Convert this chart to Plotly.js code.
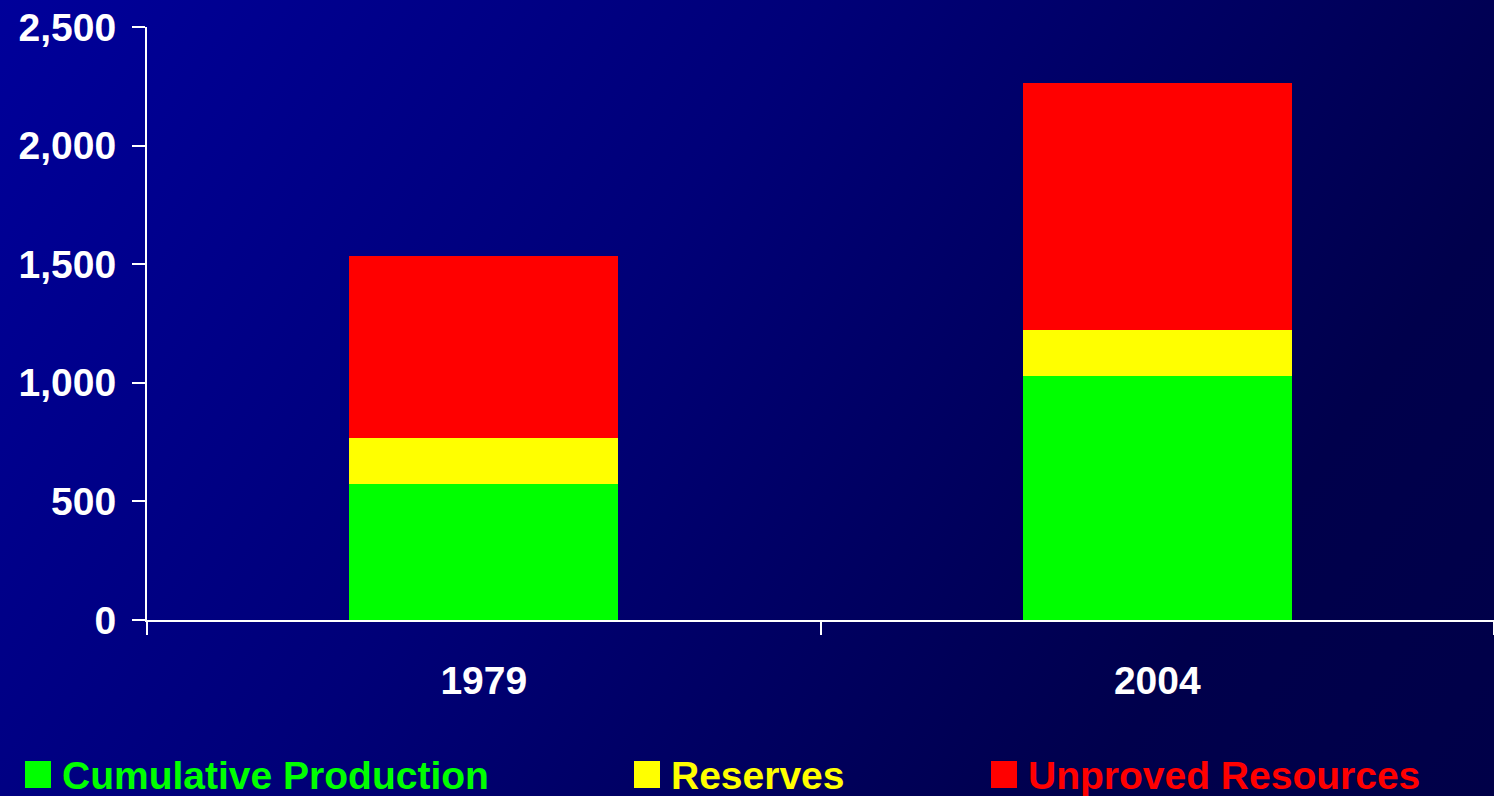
<!DOCTYPE html>
<html>
<head>
<meta charset="utf-8">
<script src="https://cdn.plot.ly/plotly-3.0.1.min.js"></script>
<style>
  html, body { margin: 0; padding: 0; width: 1494px; height: 796px; overflow: hidden; }
  body { background: linear-gradient(125deg, #00009a 0%, #000078 40%, #00004c 80%, #000048 100%); }
  #chart { width: 1494px; height: 796px; }
  #chart .legendpoints { visibility: hidden; }
</style>
</head>
<body>
<div id="chart"></div>
<script>
const years = ['1979', '2004'];
const cumulativeProduction = [573, 1029];
const reserves = [194, 194];
const unprovedResources = [768, 1041];
const seriesNames = ['Cumulative Production', 'Reserves', 'Unproved Resources'];
const yTicks = [0, 500, 1000, 1500, 2000, 2500];

const FONT = 'Liberation Sans, Arial, Helvetica, sans-serif';
const colors = ['#00ff00', '#ffff00', '#ff0000'];
const values = [cumulativeProduction, reserves, unprovedResources];
const legends = ['legend', 'legend2', 'legend3'];

const W = 1494, H = 796;
const M = { l: 147, r: 0, t: 27, b: 176 };

const traces = values.map((v, i) => ({
  type: 'bar',
  x: years,
  y: v,
  name: seriesNames[i],
  marker: { color: colors[i], line: { width: 0 } },
  legend: legends[i],
  hoverinfo: 'x+y+name'
}));

function legendAt(xpx, color) {
  return {
    x: xpx / W, xref: 'container', xanchor: 'left',
    y: 1 - 774 / H, yref: 'container', yanchor: 'middle',
    orientation: 'h',
    bgcolor: 'rgba(0,0,0,0)', borderwidth: 0,
    font: { family: FONT, size: 39, color: color, weight: 'bold' },
    itemwidth: 30
  };
}

// legend swatches (decoration), placed in pixel space and converted to paper space
const plotW = W - M.l - M.r, plotH = H - M.t - M.b;
const px2x = p => (p - M.l) / plotW;
const px2y = p => (H - M.b - p) / plotH;
const swatchLeft = [25, 634, 991];
const swatches = swatchLeft.map((x, i) => ({
  type: 'rect', xref: 'paper', yref: 'paper', layer: 'above',
  x0: px2x(x), x1: px2x(x + 26), y0: px2y(788), y1: px2y(761),
  fillcolor: colors[i], line: { width: 0 }
}));

const layout = {
  width: W, height: H,
  paper_bgcolor: 'rgba(0,0,0,0)',
  plot_bgcolor: 'rgba(0,0,0,0)',
  margin: M,
  barmode: 'stack',
  bargap: 0.6,
  showlegend: true,
  font: { family: FONT, size: 39, color: '#ffffff', weight: 'bold' },
  xaxis: {
    type: 'category',
    showline: true, linecolor: '#ffffff', linewidth: 2,
    ticks: 'outside', tickson: 'boundaries', ticklen: 13, tickwidth: 2, tickcolor: '#ffffff',
    showgrid: false, zeroline: false,
    tickfont: { family: FONT, size: 39, color: '#ffffff', weight: 'bold' },
    ticklabelstandoff: 25,
    fixedrange: true
  },
  yaxis: {
    range: [0, 2500],
    tickvals: yTicks,
    tickformat: ',d',
    showline: true, linecolor: '#ffffff', linewidth: 2,
    ticks: 'outside', ticklen: 13, tickwidth: 2, tickcolor: '#ffffff',
    showgrid: false, zeroline: false,
    tickfont: { family: FONT, size: 39, color: '#ffffff', weight: 'bold' },
    ticklabelstandoff: 8,
    fixedrange: true
  },
  legend: legendAt(22, colors[0]),
  legend2: legendAt(631, colors[1]),
  legend3: legendAt(988, colors[2]),
  shapes: swatches
};

Plotly.newPlot('chart', traces, layout, { displayModeBar: false, staticPlot: true });
</script>
</body>
</html>
